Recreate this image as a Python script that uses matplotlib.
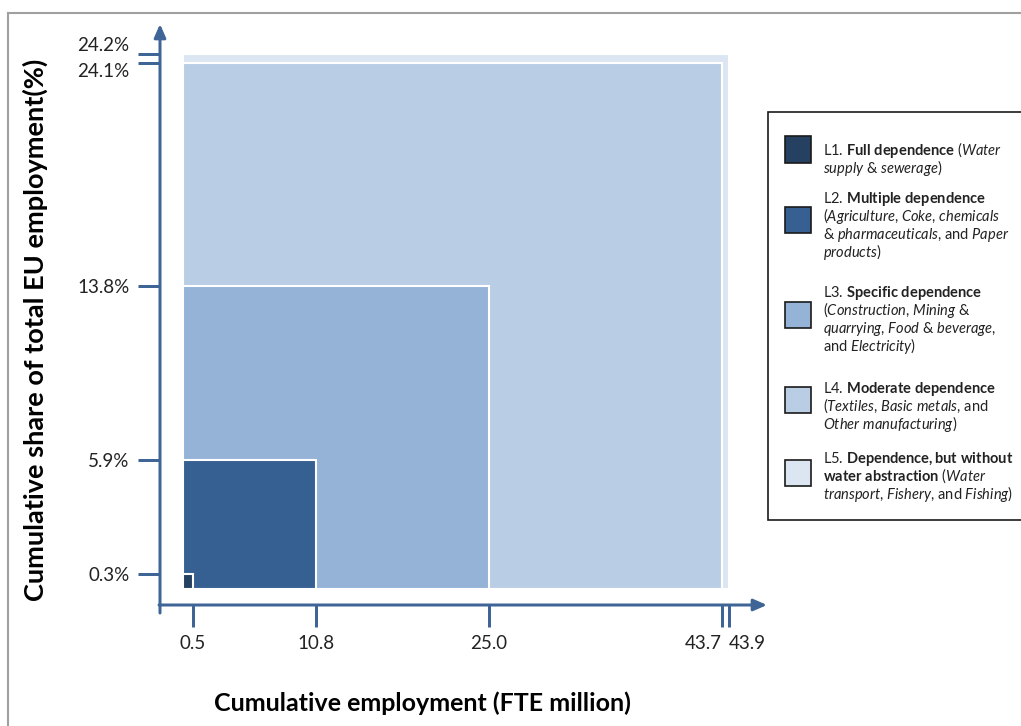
import matplotlib
matplotlib.use('Agg')
import matplotlib.pyplot as plt
from matplotlib.patches import Rectangle
from matplotlib.lines import Line2D
import numpy as np

W, H = 1021, 726

# cumulative values, level L1 .. L5
levels = ['L1', 'L2', 'L3', 'L4', 'L5']
cum_employment = [0.5, 10.8, 25.0, 43.7, 43.9]   # FTE million
cum_share = [0.3, 5.9, 13.8, 24.1, 24.2]         # % of total EU employment
colors = ['#254061', '#376092', '#95b3d7', '#b9cde5', '#dce6f2']

legend_lines = [
    [r'L1. $\mathbf{Full\ dependence}$ ($\mathit{Water}$',
     r'$\mathit{supply}$ & $\mathit{sewerage}$)'],
    [r'L2. $\mathbf{Multiple\ dependence}$',
     r'($\mathit{Agriculture}$, $\mathit{Coke}$, $\mathit{chemicals}$',
     r'& $\mathit{pharmaceuticals}$, and $\mathit{Paper}$',
     r'$\mathit{products}$)'],
    [r'L3. $\mathbf{Specific\ dependence}$',
     r'($\mathit{Construction}$, $\mathit{Mining}$ &',
     r'$\mathit{quarrying}$, $\mathit{Food}$ & $\mathit{beverage}$,',
     r'and $\mathit{Electricity}$)'],
    [r'L4. $\mathbf{Moderate\ dependence}$',
     r'($\mathit{Textiles}$, $\mathit{Basic\ metals}$, and',
     r'$\mathit{Other\ manufacturing}$)'],
    [r'L5. $\mathbf{Dependence,but\ without}$',
     r'$\mathbf{water\ abstraction}$ ($\mathit{Water}$',
     r'$\mathit{transport}$, $\mathit{Fishery}$, and $\mathit{Fishing}$)'],
]

# the chart is schematic: small steps are stretched so they stay readable
X_PIX = [0, 9.5, 133, 306, 539, 546]
Y_PIX = [0, 15, 129, 303, 526, 535]
X_SLOPE, Y_SLOPE = 12.24, 21.96
AXIS_COLOR = '#3f6596'
TEXT_COLOR = '#222222'

plt.rcParams['font.family'] = 'Lato'
plt.rcParams['mathtext.fontset'] = 'custom'
plt.rcParams['mathtext.rm'] = 'Lato'
plt.rcParams['mathtext.it'] = 'Lato:italic'
plt.rcParams['mathtext.bf'] = 'Lato:bold'


def stretch(vals, pix, slope):
    vals = np.asarray([0.0] + list(vals))
    pix = np.asarray(pix, float)

    def fwd(v):
        v = np.asarray(v, float)
        out = np.interp(v, vals, pix)
        out = np.where(v < vals[0], pix[0] + (v - vals[0]) * slope, out)
        return np.where(v > vals[-1], pix[-1] + (v - vals[-1]) * slope, out)

    def inv(p):
        p = np.asarray(p, float)
        out = np.interp(p, pix, vals)
        out = np.where(p < pix[0], vals[0] + (p - pix[0]) / slope, out)
        return np.where(p > pix[-1], vals[-1] + (p - pix[-1]) / slope, out)

    return fwd, inv


def px(x, y):
    return x / W, 1 - y / H


fig = plt.figure(figsize=(W / 100, H / 100), dpi=100)
# axes box spans from axis lines (160, 605) to arrow tips (767, 24)
ax = fig.add_axes([160 / W, 1 - 605 / H, (767 - 160) / W, (605 - 24) / H])

fx, ix = stretch(cum_employment, X_PIX, X_SLOPE)
fy, iy = stretch(cum_share, Y_PIX, Y_SLOPE)
ax.set_xscale('function', functions=(fx, ix))
ax.set_yscale('function', functions=(fy, iy))
ax.set_xlim(float(ix(160 - 183)), float(ix(767 - 183)))
ax.set_ylim(float(iy(589 - 605)), float(iy(589 - 24)))

# nested squares, biggest first
for i in range(len(levels) - 1, -1, -1):
    ax.bar(0, cum_share[i], width=cum_employment[i], align='edge',
           color=colors[i], edgecolor='white', linewidth=1.5, zorder=2)

for s in ax.spines.values():
    s.set_visible(False)

lw = 3 * 0.72
arrow = dict(arrowstyle='-|>,head_length=0.8,head_width=0.35',
             color=AXIS_COLOR, lw=lw, shrinkA=0, shrinkB=0)
ax.annotate('', xy=(0, 1), xytext=(0, -8 / 581), xycoords='axes fraction',
            arrowprops=arrow)
ax.annotate('', xy=(1, 0), xytext=(-1 / 607, 0), xycoords='axes fraction',
            arrowprops=arrow)

ax.set_xticks(cum_employment, [f'{v:.1f}' for v in cum_employment])
ax.set_yticks(cum_share, [f'{v:.1f}%' for v in cum_share])
ax.minorticks_off()
ax.tick_params(direction='out', length=22 * 0.72, width=lw, color=AXIS_COLOR,
               labelsize=13.5, labelcolor=TEXT_COLOR, pad=6)
xl = ax.get_xticklabels()
xl[3].set_ha('right')
xl[4].set_ha('left')
yl = ax.get_yticklabels()
yl[3].set_va('top')
yl[4].set_va('bottom')

fig.text(*px(422, 703), 'Cumulative employment (FTE million)', fontsize=18,
         fontweight='bold', va='center', ha='center', color='black')
fig.text(*px(35, 330), 'Cumulative share of total EU employment(%)', fontsize=19.5,
         fontweight='bold', va='center', ha='center', rotation=90, color='black')

# page frame
fig.add_artist(Line2D([8 / W, 8 / W], [0, 1 - 13 / H], color='#a0a0a0', lw=1.5))
fig.add_artist(Line2D([8 / W, 1], [1 - 13 / H, 1 - 13 / H], color='#a0a0a0', lw=1.5))

# legend box drawn by hand
x0, y0 = px(768, 520)
fig.add_artist(Rectangle((x0, y0), 300 / W, (520 - 112) / H, transform=fig.transFigure,
                         facecolor='white', edgecolor='#1a1a1a', lw=1.2, clip_on=False))
sq_center = [149.5, 220, 315, 400, 473]
line_top = [150, 198, 292, 388, 458]
for i in range(len(levels)):
    sx, sy = px(785, sq_center[i] + 13)
    fig.add_artist(Rectangle((sx, sy), 26 / W, 26 / H, transform=fig.transFigure,
                             facecolor=colors[i], edgecolor='#1a1a1a', lw=1.2))
    for j, line in enumerate(legend_lines[i]):
        tx, ty = px(823, line_top[i] + 18 * j + 5)
        fig.text(tx, ty, line, fontsize=10.5, color=TEXT_COLOR, va='baseline', ha='left')

fig.savefig('out.png', dpi=100)
